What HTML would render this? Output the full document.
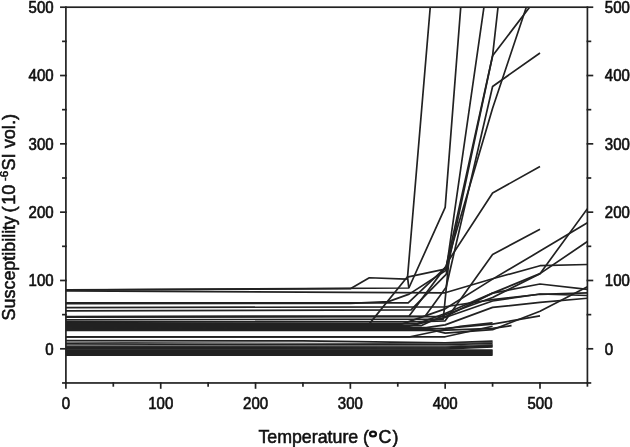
<!DOCTYPE html><html><head><meta charset="utf-8"><style>html,body{margin:0;padding:0;background:#fff;}svg{display:block;will-change:transform;}text{font-family:"Liberation Sans",sans-serif;fill:#111;stroke:#111;stroke-width:0.55px;}.t{stroke-width:0.6px;}</style></head><body>
<svg width="630" height="447" viewBox="0 0 630 447">
<defs><clipPath id="c"><rect x="65.90" y="7.20" width="521.51" height="375.76"/></clipPath></defs>
<g clip-path="url(#c)" fill="none" stroke="#222" stroke-width="1.7" stroke-linejoin="round">
<path d="M65.90,289.91 L350.36,288.68 L369.32,277.75 L406.30,279.11 L407.54,277.06 L445.18,-170.43"/>
<path d="M65.90,290.04 L408.86,288.00 L445.18,207.38 L492.59,-402.72"/>
<path d="M407.54,277.06 L408.86,288.00"/>
<path d="M65.90,291.00 L445.18,292.78 L492.59,278.77 L540.00,265.72 L587.41,264.49"/>
<path d="M65.90,303.71 L350.36,303.37 L388.29,301.66 L409.15,294.14 L446.13,270.23 L492.59,-52.92"/>
<path d="M65.90,302.89 L408.20,302.89 L446.13,266.82 L492.59,55.71 L540.00,-368.56"/>
<path d="M65.90,307.67 L445.18,306.78 L492.59,299.61 L540.00,294.28 L587.41,292.78"/>
<path d="M65.90,310.88 L411.04,309.86 L446.13,274.33 L492.59,55.71 L540.00,-6.46"/>
<path d="M65.90,316.69 L409.15,316.01 L446.13,266.13 L492.59,108.31 L540.00,-33.79"/>
<path d="M65.90,317.10 L445.18,316.69 L492.59,293.12 L540.00,284.03 L587.41,289.36"/>
<path d="M65.90,316.83 L425.27,316.01 L446.13,287.31 L492.59,86.45 L540.00,52.97"/>
<path d="M65.90,319.97 L443.28,319.08 L448.97,259.98 L492.59,193.03 L540.00,166.39"/>
<path d="M65.90,322.70 L369.32,323.86 L407.25,277.06 L446.13,268.87"/>
<path d="M65.90,321.75 L411.99,321.81 L445.18,320.79 L492.59,254.52 L540.00,229.24"/>
<path d="M65.90,323.66 L416.73,323.86 L445.18,313.48 L492.59,293.12 L540.00,273.65 L587.41,208.74"/>
<path d="M65.90,324.61 L399.67,324.89 L445.18,308.83 L492.59,279.11 L540.00,251.10 L587.41,222.68"/>
<path d="M65.90,325.57 L421.48,325.57 L445.18,314.78 L492.59,297.56 L540.00,273.65 L587.41,241.54"/>
<path d="M65.90,326.53 L407.25,326.60 L445.18,317.51 L492.59,300.98 L540.00,294.01 L587.41,295.51"/>
<path d="M65.90,327.48 L426.22,327.62 L445.18,324.89 L492.59,307.40 L540.00,302.41 L587.41,298.24"/>
<path d="M65.90,328.44 L435.70,328.65 L445.18,328.30 L492.59,324.20 L540.00,315.80"/>
<path d="M65.90,329.40 L430.96,329.67 L445.18,333.09 L492.59,329.67 L540.00,311.22 L587.41,286.63"/>
<path d="M65.90,330.35 L440.44,330.35 L492.59,328.30 L511.55,325.57"/>
<path d="M65.90,336.78 L445.18,336.78 L492.59,326.25"/>
<path d="M65.90,336.78 L410.10,336.78 L460.35,326.25 L492.59,322.84"/>
<path d="M65.90,340.53 L302.95,340.87 L445.18,342.92 L492.59,341.22"/>
<path d="M65.90,343.95 L445.18,344.70 L492.59,343.47"/>
<path d="M65.90,346.89 L445.18,347.02 L492.59,345.25"/>
<path d="M65.90,347.91 L445.18,347.98 L492.59,346.07"/>
<path d="M65.90,348.94 L445.18,349.00 L492.59,347.02"/>
<path d="M65.90,350.10 L445.18,350.10 L492.59,350.10"/>
<path d="M65.90,351.12 L445.18,351.12 L492.59,351.12"/>
<path d="M65.90,352.15 L445.18,352.15 L492.59,352.15"/>
<path d="M65.90,353.17 L445.18,353.17 L492.59,353.17"/>
<path d="M65.90,354.20 L445.18,354.20 L492.59,354.20"/>
<path d="M65.90,355.09 L445.18,355.09 L492.59,355.09"/>
<path d="M65.90,342.24 L445.18,343.74 L492.59,342.38" stroke-width="1.1" stroke="#444"/>
<path d="M65.90,345.73 L445.18,346.07 L492.59,344.43" stroke-width="1.1" stroke="#444"/>
</g>
<g stroke="#222" stroke-width="1.7" fill="none" stroke-linecap="square">
<rect x="65.90" y="7.20" width="521.51" height="375.76"/>
<line x1="62.90" y1="382.96" x2="65.90" y2="382.96"/>
<line x1="587.41" y1="382.96" x2="590.41" y2="382.96"/>
<line x1="60.90" y1="348.80" x2="65.90" y2="348.80"/>
<line x1="587.41" y1="348.80" x2="592.41" y2="348.80"/>
<line x1="62.90" y1="314.64" x2="65.90" y2="314.64"/>
<line x1="587.41" y1="314.64" x2="590.41" y2="314.64"/>
<line x1="60.90" y1="280.48" x2="65.90" y2="280.48"/>
<line x1="587.41" y1="280.48" x2="592.41" y2="280.48"/>
<line x1="62.90" y1="246.32" x2="65.90" y2="246.32"/>
<line x1="587.41" y1="246.32" x2="590.41" y2="246.32"/>
<line x1="60.90" y1="212.16" x2="65.90" y2="212.16"/>
<line x1="587.41" y1="212.16" x2="592.41" y2="212.16"/>
<line x1="62.90" y1="178.00" x2="65.90" y2="178.00"/>
<line x1="587.41" y1="178.00" x2="590.41" y2="178.00"/>
<line x1="60.90" y1="143.84" x2="65.90" y2="143.84"/>
<line x1="587.41" y1="143.84" x2="592.41" y2="143.84"/>
<line x1="62.90" y1="109.68" x2="65.90" y2="109.68"/>
<line x1="587.41" y1="109.68" x2="590.41" y2="109.68"/>
<line x1="60.90" y1="75.52" x2="65.90" y2="75.52"/>
<line x1="587.41" y1="75.52" x2="592.41" y2="75.52"/>
<line x1="62.90" y1="41.36" x2="65.90" y2="41.36"/>
<line x1="587.41" y1="41.36" x2="590.41" y2="41.36"/>
<line x1="60.90" y1="7.20" x2="65.90" y2="7.20"/>
<line x1="587.41" y1="7.20" x2="592.41" y2="7.20"/>
<line x1="65.90" y1="382.96" x2="65.90" y2="387.96"/>
<line x1="113.31" y1="382.96" x2="113.31" y2="385.86"/>
<line x1="160.72" y1="382.96" x2="160.72" y2="387.96"/>
<line x1="208.13" y1="382.96" x2="208.13" y2="385.86"/>
<line x1="255.54" y1="382.96" x2="255.54" y2="387.96"/>
<line x1="302.95" y1="382.96" x2="302.95" y2="385.86"/>
<line x1="350.36" y1="382.96" x2="350.36" y2="387.96"/>
<line x1="397.77" y1="382.96" x2="397.77" y2="385.86"/>
<line x1="445.18" y1="382.96" x2="445.18" y2="387.96"/>
<line x1="492.59" y1="382.96" x2="492.59" y2="385.86"/>
<line x1="540.00" y1="382.96" x2="540.00" y2="387.96"/>
<line x1="587.41" y1="382.96" x2="587.41" y2="385.86"/>
</g>
<text transform="translate(53.6,354.50) scale(1,1.05)" font-size="15" text-anchor="end" class="t">0</text>
<text transform="translate(604.8,354.50) scale(1,1.05)" font-size="15" text-anchor="start" class="t">0</text>
<text transform="translate(53.6,286.18) scale(1,1.05)" font-size="15" text-anchor="end" class="t">100</text>
<text transform="translate(604.8,286.18) scale(1,1.05)" font-size="15" text-anchor="start" class="t">100</text>
<text transform="translate(53.6,217.86) scale(1,1.05)" font-size="15" text-anchor="end" class="t">200</text>
<text transform="translate(604.8,217.86) scale(1,1.05)" font-size="15" text-anchor="start" class="t">200</text>
<text transform="translate(53.6,149.54) scale(1,1.05)" font-size="15" text-anchor="end" class="t">300</text>
<text transform="translate(604.8,149.54) scale(1,1.05)" font-size="15" text-anchor="start" class="t">300</text>
<text transform="translate(53.6,81.22) scale(1,1.05)" font-size="15" text-anchor="end" class="t">400</text>
<text transform="translate(604.8,81.22) scale(1,1.05)" font-size="15" text-anchor="start" class="t">400</text>
<text transform="translate(53.6,12.90) scale(1,1.05)" font-size="15" text-anchor="end" class="t">500</text>
<text transform="translate(604.8,12.90) scale(1,1.05)" font-size="15" text-anchor="start" class="t">500</text>
<text transform="translate(65.90,408.6) scale(1,1.05)" font-size="15" text-anchor="middle" class="t">0</text>
<text transform="translate(160.72,408.6) scale(1,1.05)" font-size="15" text-anchor="middle" class="t">100</text>
<text transform="translate(255.54,408.6) scale(1,1.05)" font-size="15" text-anchor="middle" class="t">200</text>
<text transform="translate(350.36,408.6) scale(1,1.05)" font-size="15" text-anchor="middle" class="t">300</text>
<text transform="translate(445.18,408.6) scale(1,1.05)" font-size="15" text-anchor="middle" class="t">400</text>
<text transform="translate(540.00,408.6) scale(1,1.05)" font-size="15" text-anchor="middle" class="t">500</text>
<text x="258.4" y="443.2" font-size="17.8">Temperature</text>
<text x="363.0" y="443.2" font-size="17.8">(</text>
<ellipse cx="373.0" cy="434.0" rx="2.95" ry="2.45" fill="none" stroke="#111" stroke-width="2.3"/>
<text x="378.6" y="443.2" font-size="17.8">C</text>
<text x="392.6" y="443.2" font-size="17.8">)</text>
<g transform="translate(15.2,0) rotate(-90)">
<text x="-320.4" y="0" font-size="17.9">Susceptibility</text>
<text x="-212.6" y="0" font-size="18.2">(</text>
<text x="-204.8" y="0" font-size="18.2">10</text>
<text x="-181.0" y="-6.8" font-size="11.5">-6</text>
<text x="-170.6" y="0" font-size="18.2">SI vol.)</text>
</g>
</svg></body></html>
